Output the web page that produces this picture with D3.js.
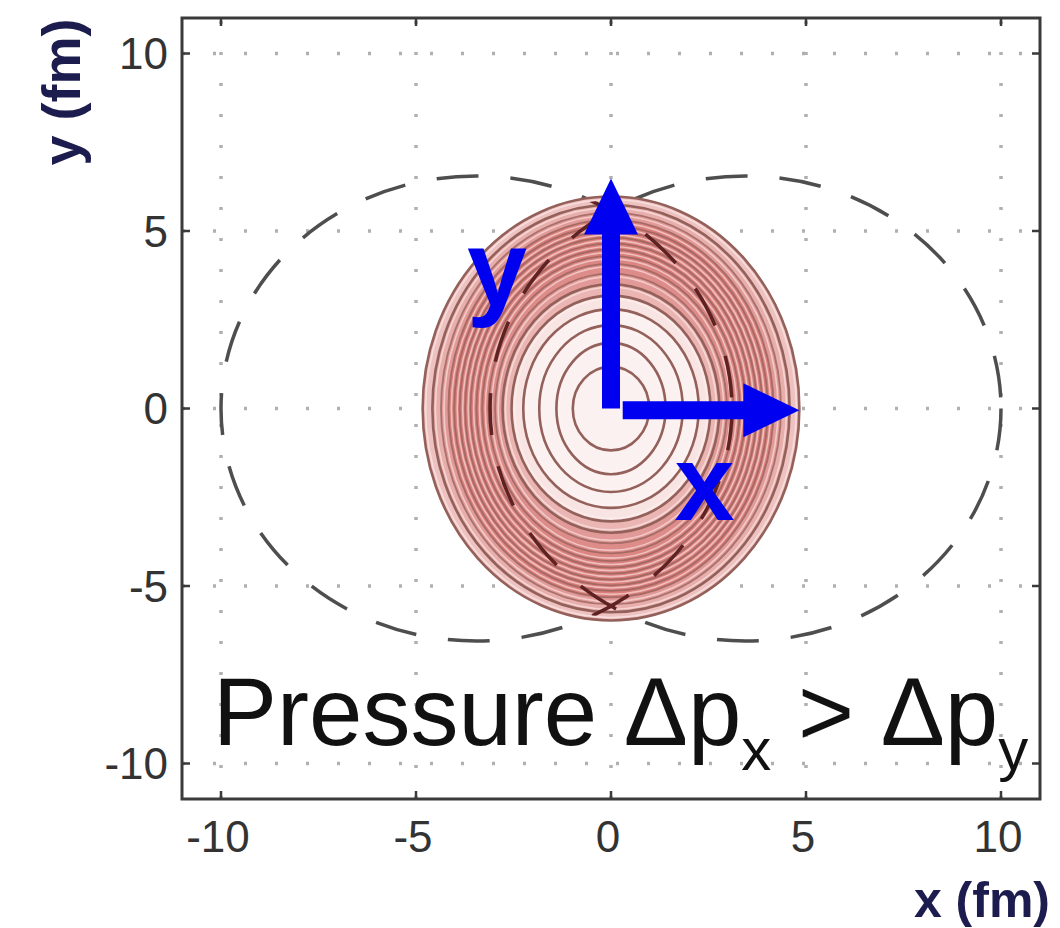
<!DOCTYPE html>
<html><head><meta charset="utf-8">
<script src="https://cdn.jsdelivr.net/npm/d3@7"></script>
<style>body{margin:0;background:#fff}</style>
</head><body>
<svg id="chart" width="1060" height="928"></svg>
<script>
// ---------- data ----------
const xTicks = [-10, -5, 0, 5, 10];
const yTicks = [-10, -5, 0, 5, 10];
const xDomain = [-11, 11];
const yDomain = [-11, 11];
// pressure contour half-axes (fm), inner to outer
const contourRx = [0.98, 1.40, 1.84, 2.25, 2.55, 2.78, 2.97, 3.14, 3.30, 3.45, 3.60, 3.74, 3.88, 4.02, 4.17, 4.36, 4.58, 4.83];
const contourRy = [1.18, 1.85, 2.35, 2.80, 3.18, 3.50, 3.80, 4.08, 4.30, 4.48, 4.65, 4.82, 4.98, 5.14, 5.32, 5.52, 5.74, 5.97];
// colliding nuclei (dashed)
const nucleusCx = [-3.45, 3.45];
const nucleusR = [6.55, 6.55];
// pressure-gradient arrows
const arrowFrom = [[0, 0], [0.3, -0.05]];
const arrowTo = [[0, 6.48], [4.83, -0.05]];
const arrowNames = ["y", "x"];
const xLabel = "x (fm)";
const yLabel = "y (fm)";

// ---------- layout ----------
const svg = d3.select("#chart");
const x = d3.scaleLinear().domain(xDomain).range([182, 1040]);
const y = d3.scaleLinear().domain(yDomain).range([799, 18]);
const font = "'Liberation Sans', Arial, Helvetica, sans-serif";

svg.append("rect").attr("width", 1060).attr("height", 928).attr("fill", "#fff");

// grid
const grid = svg.append("g").attr("stroke", "#b0b0b0").attr("stroke-width", 3.5)
  .attr("stroke-dasharray", "3,28").attr("stroke-linecap", "butt");
grid.selectAll("line.v").data(xTicks).join("line").attr("class", "v")
  .attr("x1", d => x(d)).attr("x2", d => x(d)).attr("y1", y(yDomain[0])).attr("y2", y(yDomain[1]));
grid.selectAll("line.h").data(yTicks).join("line").attr("class", "h")
  .attr("y1", d => y(d)).attr("y2", d => y(d)).attr("x1", x(xDomain[0])).attr("x2", x(xDomain[1]));

// nuclei dashed outlines
function nuclei(g, color) {
  g.selectAll("ellipse").data(nucleusCx).join("ellipse")
    .attr("cx", d => x(d)).attr("cy", y(0))
    .attr("rx", (d, i) => x(nucleusR[i]) - x(0))
    .attr("ry", (d, i) => y(0) - y(nucleusR[i]))
    .attr("fill", "none").attr("stroke", color).attr("stroke-width", 3.5)
    .attr("stroke-dasharray", "42,32");
}
nuclei(svg.append("g"), "#4e4e4e");

// contour band fills (intensity from contour spacing)
const bands = contourRx.map((rx, i) => {
  const sp = i === 0 ? contourRx[0] : rx - contourRx[i - 1];
  return { rx, ry: contourRy[i], sp };
});
const outer = bands[bands.length - 1];
svg.append("clipPath").attr("id", "inside").append("ellipse")
  .attr("cx", x(0)).attr("cy", y(0))
  .attr("rx", x(outer.rx) - x(0) - 4).attr("ry", y(0) - y(outer.ry) - 4);

const t = d3.scaleLinear().domain([0.32, 0.15]).range([0, 1]).clamp(true);
const col = d3.interpolateRgb("#fcf1f1", "#da7f7c");
svg.append("g").selectAll("ellipse").data(bands.slice().reverse()).join("ellipse")
  .attr("cx", x(0)).attr("cy", y(0))
  .attr("rx", d => x(d.rx) - x(0)).attr("ry", d => y(0) - y(d.ry))
  .attr("fill", d => col(t(d.sp)));

// light halo just inside each contour line
svg.append("g").selectAll("ellipse").data(bands.slice(1)).join("ellipse")
  .attr("cx", x(0)).attr("cy", y(0))
  .attr("rx", d => x(d.rx) - x(0) - 3).attr("ry", d => y(0) - y(d.ry) - 3)
  .attr("fill", "none").attr("stroke", "#fff4f2").attr("stroke-opacity", 0.55).attr("stroke-width", 1.6);

// contour lines
svg.append("g").selectAll("ellipse").data(bands).join("ellipse")
  .attr("cx", x(0)).attr("cy", y(0))
  .attr("rx", d => x(d.rx) - x(0)).attr("ry", d => y(0) - y(d.ry))
  .attr("fill", "none").attr("stroke", "#93605a").attr("stroke-width", d => d.sp < 0.2 ? 1.8 : 2.6)
  .attr("stroke-opacity", d => d.sp < 0.2 ? 0.75 : 1);

// nuclei outlines seen through the overlap region
nuclei(svg.append("g").attr("clip-path", "url(#inside)"), "#5e2222");

// axes box and ticks
const axes = svg.append("g");
axes.append("rect").attr("x", x(xDomain[0])).attr("y", y(yDomain[1]))
  .attr("width", x(xDomain[1]) - x(xDomain[0])).attr("height", y(yDomain[0]) - y(yDomain[1]))
  .attr("fill", "none").attr("stroke", "#3a3a3a").attr("stroke-width", 3);
const tl = 8;
const tk = axes.append("g").attr("stroke", "#3a3a3a").attr("stroke-width", 2.5);
xTicks.forEach(v => {
  tk.append("line").attr("x1", x(v)).attr("x2", x(v)).attr("y1", y(yDomain[0])).attr("y2", y(yDomain[0]) - tl);
  tk.append("line").attr("x1", x(v)).attr("x2", x(v)).attr("y1", y(yDomain[1])).attr("y2", y(yDomain[1]) + tl);
});
yTicks.forEach(v => {
  tk.append("line").attr("y1", y(v)).attr("y2", y(v)).attr("x1", x(xDomain[0])).attr("x2", x(xDomain[0]) + tl);
  tk.append("line").attr("y1", y(v)).attr("y2", y(v)).attr("x1", x(xDomain[1])).attr("x2", x(xDomain[1]) - tl);
});
axes.append("g").selectAll("text").data(xTicks).join("text")
  .attr("x", d => x(d) - 3).attr("y", 852).attr("text-anchor", "middle")
  .attr("font-family", font).attr("font-size", 44).attr("fill", "#333")
  .text(d => d);
axes.append("g").selectAll("text").data(yTicks).join("text")
  .attr("x", 168).attr("y", d => y(d)).attr("dy", "0.36em").attr("text-anchor", "end")
  .attr("font-family", font).attr("font-size", 44).attr("fill", "#333")
  .text(d => d);

svg.append("text").attr("x", 1050).attr("y", 917).attr("text-anchor", "end")
  .attr("font-family", font).attr("font-weight", "bold").attr("font-size", 50)
  .attr("fill", "#1c1c4e").text(xLabel);
svg.append("text").attr("transform", "translate(80,92) rotate(-90)").attr("text-anchor", "middle")
  .attr("font-family", font).attr("font-weight", "bold").attr("font-size", 54)
  .attr("fill", "#1c1c4e").text(yLabel);

// arrows
function arrowPath(p0, p1, sw, hw, hl) {
  const dx = p1[0] - p0[0], dy = p1[1] - p0[1], L = Math.hypot(dx, dy);
  const ux = dx / L, uy = dy / L, nx = -uy, ny = ux;
  const bx = p1[0] - ux * hl, by = p1[1] - uy * hl;
  const pts = [
    [p0[0] + nx * sw / 2, p0[1] + ny * sw / 2],
    [bx + nx * sw / 2, by + ny * sw / 2],
    [bx + nx * hw / 2, by + ny * hw / 2],
    p1,
    [bx - nx * hw / 2, by - ny * hw / 2],
    [bx - nx * sw / 2, by - ny * sw / 2],
    [p0[0] - nx * sw / 2, p0[1] - ny * sw / 2]
  ];
  return "M" + pts.map(p => p.join(",")).join("L") + "Z";
}
svg.append("g").selectAll("path").data(arrowNames).join("path")
  .attr("d", (d, i) => arrowPath([x(arrowFrom[i][0]), y(arrowFrom[i][1])], [x(arrowTo[i][0]), y(arrowTo[i][1])], 18, 54, 56))
  .attr("fill", "#0000f0");
// arrow labels
const labelPos = { y: [-2.92, 2.9], x: [2.4, -3.15] };
svg.append("g").selectAll("text").data(arrowNames).join("text")
  .attr("x", d => x(labelPos[d][0])).attr("y", d => y(labelPos[d][1]))
  .attr("text-anchor", "middle").attr("font-family", font).attr("font-weight", "bold")
  .attr("font-size", 108).attr("fill", "#0000f0").text(d => d);

// annotation
const ann = svg.append("text").attr("x", 213).attr("y", 745)
  .attr("font-family", font).attr("font-size", 96).attr("fill", "#111");
ann.append("tspan").text("Pressure \u0394p");
ann.append("tspan").attr("font-size", 60).attr("dy", 25).text("x");
ann.append("tspan").attr("dy", -25).text(" > \u0394p");
ann.append("tspan").attr("font-size", 60).attr("dy", 25).text("y");
</script>
</body></html>
